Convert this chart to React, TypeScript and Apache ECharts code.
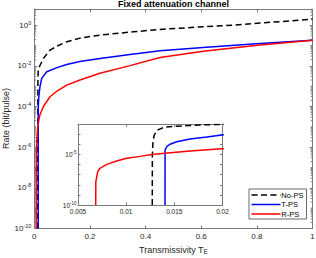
import React, { useEffect, useRef } from 'react';
import * as echarts from 'echarts';

// Transmissivity values (x) and rates in bit/pulse (y)
const tNoPS = [0.01271, 0.01272, 0.01278, 0.0129, 0.0132, 0.0139, 0.015, 0.0165, 0.018, 0.02, 0.0324, 0.0564, 0.0816, 0.1165, 0.164, 0.236, 0.356, 0.452, 0.607, 0.714, 0.811, 1.0];
const rNoPS = [1e-10, 1e-5, 1.58e-4, 7.94e-4, 2.51e-3, 5.01e-3, 6.31e-3, 7.59e-3, 8.71e-3, 1.0e-2, 2.29e-2, 5.89e-2, 9.33e-2, 0.151, 0.229, 0.324, 0.468, 0.617, 0.832, 1.0, 1.26, 1.95];

const tTPS = [0.01403, 0.01404, 0.01421, 0.01455, 0.01525, 0.01663, 0.01836, 0.01992, 0.0266, 0.0446, 0.0816, 0.1165, 0.164, 0.236, 0.344, 0.452, 0.607, 0.811, 1.0];
const rTPS = [1e-10, 2.82e-5, 6.03e-5, 1.05e-4, 1.86e-4, 3.47e-4, 5.5e-4, 8.71e-4, 2.4e-3, 5.13e-3, 8.13e-3, 1.17e-2, 1.62e-2, 2.29e-2, 3.55e-2, 5.5e-2, 7.94e-2, 0.126, 0.182];

const tRPS = [0.00684, 0.00685, 0.00705, 0.00728, 0.00798, 0.00902, 0.01006, 0.01144, 0.01247, 0.01403, 0.01663, 0.01992, 0.0324, 0.0564, 0.0816, 0.1165, 0.164, 0.236, 0.344, 0.452, 0.607, 0.811, 1.0];
const rRPS = [1e-10, 2.04e-8, 2.0e-7, 4.37e-7, 1.07e-6, 2.29e-6, 4.27e-6, 6.61e-6, 9.55e-6, 1.32e-5, 2.24e-5, 3.8e-5, 9.77e-5, 3.02e-4, 5.75e-4, 1.12e-3, 2.0e-3, 4.27e-3, 1.02e-2, 2.57e-2, 5.25e-2, 0.105, 0.182];

const seriesNames = ['No-PS', 'T-PS', 'R-PS'];
const titleText = 'Fixed attenuation channel';
const yAxisTitle = 'Rate (bit/pulse)';

// axis ranges
const mainX = [0, 1];
const mainXStep = 0.2;
const mainY = [1e-10, 6];
const insetX = [0.005, 0.02];
const insetXStep = 0.005;
const insetY = [1e-10, 1e-2];
const insetYLabelled = [-10, -5];

const FONT = '"Liberation Sans", Arial, Helvetica, sans-serif';
const AXIS = '#7a7a7a';
const TXT = '#262626';
const COLORS = ['#000000', '#0000ff', '#ff0000'];
const DASHES: any[] = [[6, 3.5], null, null];

const lg = (v: number) => Math.log10(v);
const pairs = (t: number[], r: number[]) => t.map((x, i) => [x, lg(r[i])]);

function minorTickValues(): number[][] {
  const out: number[][] = [];
  const lo = Math.round(lg(mainY[0]));
  const hi = lg(mainY[1]);
  for (let n = lo; n <= Math.ceil(hi); n++) {
    for (let k = 1; k <= 9; k++) {
      const v = n + Math.log10(k);
      if (v > hi + 1e-9) continue;
      if (k === 1 && n % 2 === 0) continue;
      out.push([0, v]);
    }
  }
  return out;
}

export default function App() {
  const ref = useRef<HTMLDivElement>(null);
  useEffect(() => {
    if (!ref.current) return;
    const chart = echarts.init(ref.current, undefined, { renderer: 'svg' });

    const datas = [pairs(tNoPS, rNoPS), pairs(tTPS, rTPS), pairs(tRPS, rRPS)];

    const lineSeries = (gi: number) =>
      datas.map((d, i) => ({
        type: 'line',
        name: seriesNames[i],
        xAxisIndex: gi === 0 ? 0 : 2,
        yAxisIndex: gi === 0 ? 0 : 2,
        data: d,
        showSymbol: false,
        symbol: 'none',
        smooth: false,
        clip: true,
        lineStyle: { color: COLORS[i], width: 1.5, type: DASHES[i] || 'solid' },
        itemStyle: { color: COLORS[i] },
        z: 3,
      }));

    const supFmt = (filter: (n: number) => boolean) => (v: number) => {
      const n = Math.round(v);
      if (Math.abs(v - n) > 1e-6 || !filter(n)) return '';
      return `{b|10}{s|${n}}`;
    };

    const tickStyle = { color: AXIS, width: 1 };

    // manual legend (box, line samples, labels)
    const lgX = 249, lgY = 189, lgW = 57.5, lgH = 30;
    const rowsY = [195, 204.5, 214];
    const legendEls: any[] = [
      {
        type: 'rect',
        shape: { x: lgX, y: lgY, width: lgW, height: lgH },
        style: { fill: '#fff', stroke: '#444', lineWidth: 0.8 },
        z: 10,
      },
    ];
    seriesNames.forEach((nm, i) => {
      legendEls.push({
        type: 'line',
        shape: { x1: lgX + 2.5, y1: rowsY[i], x2: lgX + 31.5, y2: rowsY[i] },
        style: { stroke: COLORS[i], lineWidth: 1.5, lineDash: DASHES[i] || undefined },
        z: 11,
      });
      legendEls.push({
        type: 'text',
        x: lgX + 32.3,
        y: rowsY[i],
        style: { text: nm, fill: '#000', fontSize: 7.5, fontFamily: FONT, verticalAlign: 'middle', align: 'left' },
        z: 11,
      });
    });

    const option: any = {
      animation: false,
      textStyle: { fontFamily: FONT },
      title: {
        text: titleText,
        left: 173.4,
        top: -1,
        padding: 0,
        textAlign: 'center',
        textStyle: { fontFamily: FONT, fontSize: 9, fontWeight: 'bold', color: '#000' },
      },
      graphic: [
        {
          type: 'text',
          x: 5.5,
          y: 118.5,
          rotation: Math.PI / 2,
          style: { text: yAxisTitle, fill: TXT, fontSize: 9, fontFamily: FONT, align: 'center', verticalAlign: 'middle' },
        },
        ...legendEls,
      ],
      grid: [
        { left: 34.3, top: 9.3, width: 278.2, height: 219.2, containLabel: false, outerBoundsMode: 'none' },
        {
          left: 78, top: 124.3, width: 144.5, height: 80.7, containLabel: false, outerBoundsMode: 'none',
          show: true, backgroundColor: '#fff', borderWidth: 0,
        },
      ],
      xAxis: [
        {
          gridIndex: 0, type: 'value', min: mainX[0], max: mainX[1], interval: mainXStep,
          axisLine: { show: true, onZero: false, lineStyle: tickStyle },
          axisTick: { inside: true, length: 3, lineStyle: tickStyle },
          splitLine: { show: false },
          axisLabel: {
            margin: 4, fontSize: 8, color: TXT, fontFamily: FONT,
            formatter: (v: number) => String(+v.toFixed(1)),
          },
          name: '{a|Transmissivity T}{e|E}',
          nameLocation: 'middle',
          nameGap: 11,
          nameTextStyle: {
            color: TXT, fontFamily: FONT,
            rich: { a: { fontSize: 9, color: TXT, fontFamily: FONT }, e: { fontSize: 6.5, color: TXT, fontFamily: FONT, padding: [4, 0, 0, 0] } },
          },
        },
        {
          gridIndex: 0, type: 'value', position: 'top', min: mainX[0], max: mainX[1], interval: mainXStep,
          axisLine: { show: true, onZero: false, lineStyle: tickStyle },
          axisTick: { inside: true, length: 3, lineStyle: tickStyle },
          splitLine: { show: false }, axisLabel: { show: false },
        },
        {
          gridIndex: 1, type: 'value', min: insetX[0], max: insetX[1], interval: insetXStep,
          axisLine: { show: true, onZero: false, lineStyle: tickStyle },
          axisTick: { inside: true, length: 2.5, lineStyle: tickStyle },
          splitLine: { show: false },
          axisLabel: {
            margin: 3, fontSize: 6.5, color: TXT, fontFamily: FONT,
            formatter: (v: number) => String(+v.toFixed(3)),
          },
        },
        {
          gridIndex: 1, type: 'value', position: 'top', min: insetX[0], max: insetX[1], interval: insetXStep,
          axisLine: { show: true, onZero: false, lineStyle: tickStyle },
          axisTick: { inside: true, length: 2.5, lineStyle: tickStyle },
          splitLine: { show: false }, axisLabel: { show: false },
        },
      ],
      yAxis: [
        {
          gridIndex: 0, type: 'value', min: lg(mainY[0]), max: lg(mainY[1]), interval: 2,
          axisLine: { show: true, onZero: false, lineStyle: tickStyle },
          axisTick: { inside: true, length: 3, lineStyle: tickStyle },
          splitLine: { show: false },
          axisLabel: {
            margin: 3, color: TXT, fontFamily: FONT,
            formatter: supFmt((n) => n % 2 === 0),
            rich: {
              b: { fontSize: 8, color: TXT, fontFamily: FONT },
              s: { fontSize: 5.5, color: TXT, fontFamily: FONT, padding: [0, 0, 5, 0] },
            },
          },
        },
        {
          gridIndex: 0, type: 'value', position: 'right', min: lg(mainY[0]), max: lg(mainY[1]), interval: 2,
          axisLine: { show: true, onZero: false, lineStyle: tickStyle },
          axisTick: { inside: true, length: 3, lineStyle: tickStyle },
          splitLine: { show: false }, axisLabel: { show: false },
        },
        {
          gridIndex: 1, type: 'value', min: lg(insetY[0]), max: lg(insetY[1]), interval: 1,
          axisLine: { show: true, onZero: false, lineStyle: tickStyle },
          axisTick: { inside: true, length: 2.5, lineStyle: tickStyle },
          splitLine: { show: false },
          axisLabel: {
            margin: 1.5, color: TXT, fontFamily: FONT,
            formatter: supFmt((n) => insetYLabelled.includes(n)),
            rich: {
              b: { fontSize: 6.5, color: TXT, fontFamily: FONT },
              s: { fontSize: 4.5, color: TXT, fontFamily: FONT, padding: [0, 0, 4, 0] },
            },
          },
        },
        {
          gridIndex: 1, type: 'value', position: 'right', min: lg(insetY[0]), max: lg(insetY[1]), interval: 1,
          axisLine: { show: true, onZero: false, lineStyle: tickStyle },
          axisTick: { inside: true, length: 2.5, lineStyle: tickStyle },
          splitLine: { show: false }, axisLabel: { show: false },
        },
      ],
      series: [
        ...lineSeries(0),
        ...lineSeries(1),
        {
          type: 'custom',
          name: 'minor',
          xAxisIndex: 0,
          yAxisIndex: 0,
          silent: true,
          data: minorTickValues(),
          encode: { x: 0, y: 1 },
          renderItem: (params: any, api: any) => {
            const v = api.value(1);
            const p = api.coord([0, v]);
            const cs = params.coordSys;
            const len = 1.8;
            const st = { stroke: AXIS, lineWidth: 1 };
            return {
              type: 'group',
              children: [
                { type: 'line', shape: { x1: cs.x, y1: p[1], x2: cs.x + len, y2: p[1] }, style: st },
                { type: 'line', shape: { x1: cs.x + cs.width - len, y1: p[1], x2: cs.x + cs.width, y2: p[1] }, style: st },
              ],
            };
          },
          z: 1,
        },
      ],
    };

    chart.setOption(option);
    return () => chart.dispose();
  }, []);

  return (
    <div
      ref={ref}
      style={{ position: 'fixed', left: 0, top: 0, width: 316, height: 258, background: '#fff' }}
    />
  );
}
